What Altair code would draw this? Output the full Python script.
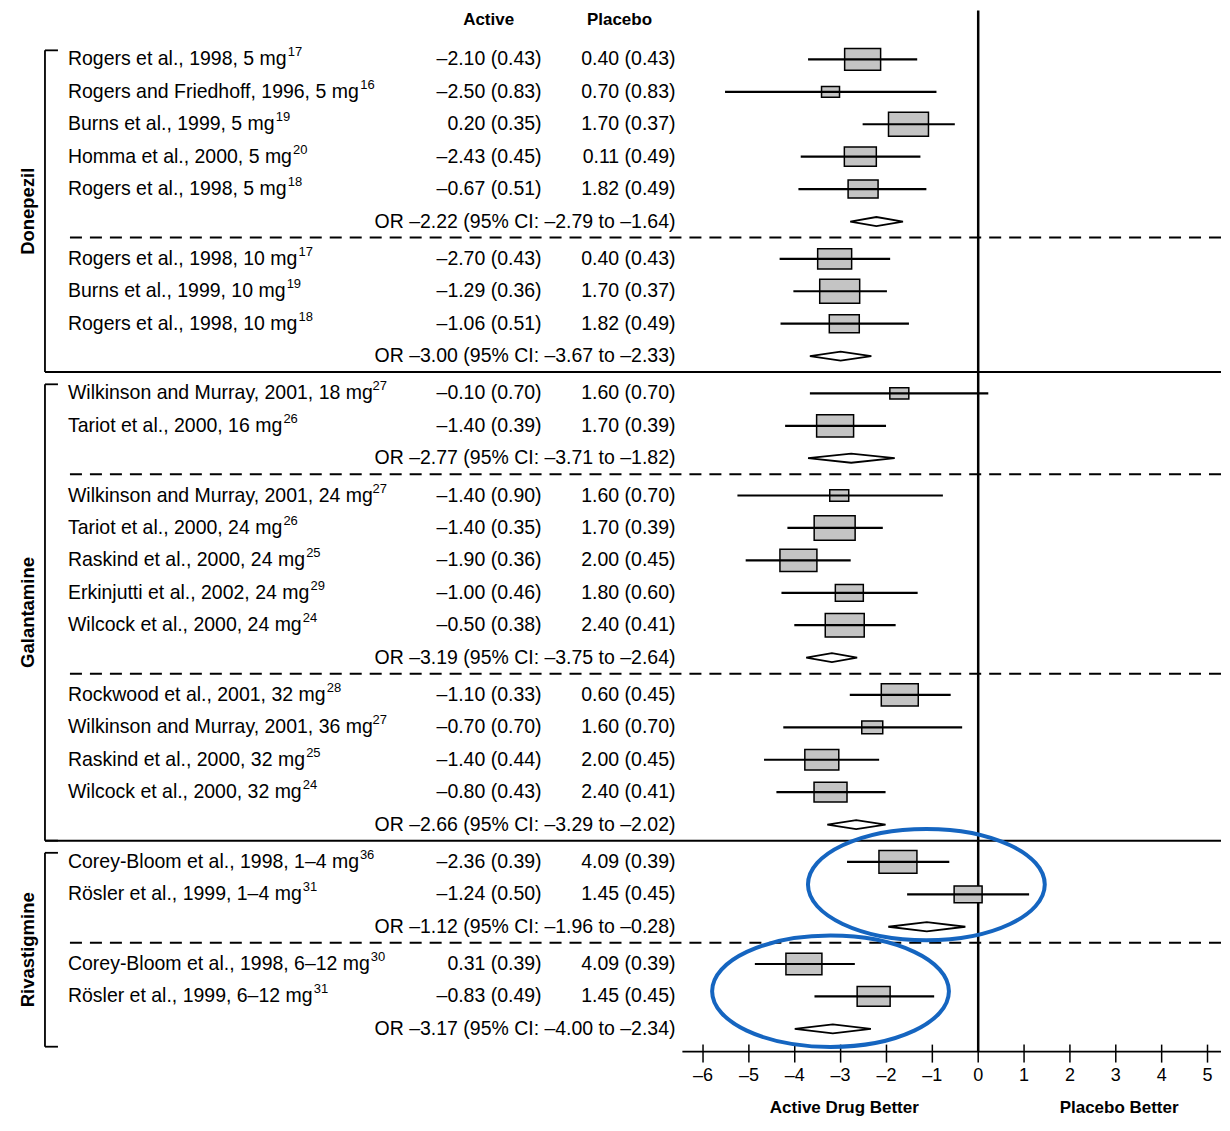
import altair as alt
import pandas as pd

# ---------------- data ----------------
subgroup_drug = ["Donepezil", "Donepezil", "Galantamine", "Galantamine",
                 "Galantamine", "Rivastigmine", "Rivastigmine"]
subgroup_size = [5, 3, 2, 5, 4, 2, 2]

study_names = [
    "Rogers et al., 1998, 5 mg",
    "Rogers and Friedhoff, 1996, 5 mg",
    "Burns et al., 1999, 5 mg",
    "Homma et al., 2000, 5 mg",
    "Rogers et al., 1998, 5 mg",
    "Rogers et al., 1998, 10 mg",
    "Burns et al., 1999, 10 mg",
    "Rogers et al., 1998, 10 mg",
    "Wilkinson and Murray, 2001, 18 mg",
    "Tariot et al., 2000, 16 mg",
    "Wilkinson and Murray, 2001, 24 mg",
    "Tariot et al., 2000, 24 mg",
    "Raskind et al., 2000, 24 mg",
    "Erkinjutti et al., 2002, 24 mg",
    "Wilcock et al., 2000, 24 mg",
    "Rockwood et al., 2001, 32 mg",
    "Wilkinson and Murray, 2001, 36 mg",
    "Raskind et al., 2000, 32 mg",
    "Wilcock et al., 2000, 32 mg",
    "Corey-Bloom et al., 1998, 1–4 mg",
    "Rösler et al., 1999, 1–4 mg",
    "Corey-Bloom et al., 1998, 6–12 mg",
    "Rösler et al., 1999, 6–12 mg",
]
study_refs = ["17", "16", "19", "20", "18", "17", "19", "18", "27", "26", "27", "26",
              "25", "29", "24", "28", "27", "25", "24", "36", "31", "30", "31"]
active_mean = [-2.10, -2.50, 0.20, -2.43, -0.67, -2.70, -1.29, -1.06, -0.10, -1.40,
               -1.40, -1.40, -1.90, -1.00, -0.50, -1.10, -0.70, -1.40, -0.80,
               -2.36, -1.24, 0.31, -0.83]
active_se = [0.43, 0.83, 0.35, 0.45, 0.51, 0.43, 0.36, 0.51, 0.70, 0.39,
             0.90, 0.35, 0.36, 0.46, 0.38, 0.33, 0.70, 0.44, 0.43,
             0.39, 0.50, 0.39, 0.49]
placebo_mean = [0.40, 0.70, 1.70, 0.11, 1.82, 0.40, 1.70, 1.82, 1.60, 1.70,
                1.60, 1.70, 2.00, 1.80, 2.40, 0.60, 1.60, 2.00, 2.40,
                4.09, 1.45, 4.09, 1.45]
placebo_se = [0.43, 0.83, 0.37, 0.49, 0.49, 0.43, 0.37, 0.49, 0.70, 0.39,
              0.70, 0.39, 0.45, 0.60, 0.41, 0.45, 0.70, 0.45, 0.41,
              0.39, 0.45, 0.39, 0.45]
# plotted effect and 95% CI
effect = [-2.52, -3.22, -1.52, -2.57, -2.51, -3.13, -3.02, -2.92, -1.72, -3.12,
          -3.03, -3.13, -3.92, -2.81, -2.91, -1.71, -2.31, -3.41, -3.22,
          -1.75, -0.22, -3.80, -2.28]
ci_low = [-3.71, -5.52, -2.52, -3.87, -3.92, -4.33, -4.03, -4.31, -3.67, -4.21,
          -5.25, -4.16, -5.07, -4.29, -4.01, -2.80, -4.25, -4.67, -4.40,
          -2.86, -1.55, -4.87, -3.57]
ci_high = [-1.33, -0.91, -0.51, -1.26, -1.13, -1.92, -1.99, -1.51, 0.22, -2.01,
           -0.77, -2.08, -2.78, -1.32, -1.80, -0.60, -0.35, -2.16, -2.02,
           -0.63, 1.11, -2.69, -0.96]
# relative study weight (box width)
weight = [36, 18, 40, 32, 30, 34, 40, 30, 19, 37, 19, 41, 37, 28, 39,
          37, 21, 34, 33, 38, 28, 36, 33]

pooled_or = [-2.22, -3.00, -2.77, -3.19, -2.66, -1.12, -3.17]
pooled_low = [-2.79, -3.67, -3.71, -3.75, -3.29, -1.96, -4.00]
pooled_high = [-1.64, -2.33, -1.82, -2.64, -2.02, -0.28, -2.34]

axis_ticks = [-6, -5, -4, -3, -2, -1, 0, 1, 2, 3, 4, 5]
highlight_subgroup = [5, 6]
highlight_x = [-1.13, -3.22]

# ---------------- layout ----------------
W, H = 1214, 1110
X_ZERO, X_UNIT = 971, 45.9
Y_FIRST, Y_UNIT = 51, 32.45
GAP = 0.15
FONT = "Liberation Sans"
BODY = 19.5
SUP = 13
NAME_X = 60

# Liberation Sans (Arial-metric) advance widths, per 1000 em, to place superscripts
ADV = {" ": 278, ",": 278, ".": 278, "-": 333, "–": 556,
       "A": 667, "B": 667, "C": 722, "D": 722, "E": 667, "F": 611, "G": 778,
       "H": 722, "I": 278, "M": 833, "R": 722, "T": 611, "W": 944,
       "a": 556, "b": 556, "c": 500, "d": 556, "e": 556, "f": 278, "g": 556,
       "h": 556, "i": 222, "j": 222, "k": 500, "l": 222, "m": 833, "n": 556,
       "o": 556, "r": 333, "s": 500, "t": 278, "u": 556, "w": 722, "y": 500,
       "ö": 556}
KERN = {("T", "a"): -111, ("y", ","): -111, ("a", "y"): -18, ("r", "a"): -18,
        ("r", ","): -55, ("y", "-"): -18}


def text_width(s, size):
    w = sum(ADV.get(c, 556) for c in s)
    w += sum(KERN.get((a, b), 0) for a, b in zip(s, s[1:]))
    return w * size / 1000.0


def fmt(v):
    return f"{v:.2f}".replace("-", "–")


study_rows, or_rows, seps, sub_first = [], [], [], []
pos, k = 0.0, 0
drug_first, drug_last = {}, {}
for g, (drug, n) in enumerate(zip(subgroup_drug, subgroup_size)):
    sub_first.append(pos)
    drug_first.setdefault(drug, pos)
    for _ in range(n):
        study_rows.append(dict(
            row=pos, name=study_names[k], ref=study_refs[k],
            sx=NAME_X + text_width(study_names[k], BODY) + 1,
            act=f"{fmt(active_mean[k])} ({active_se[k]:.2f})",
            pla=f"{fmt(placebo_mean[k])} ({placebo_se[k]:.2f})",
            effect=effect[k], lo=ci_low[k], hi=ci_high[k], sz=weight[k] ** 2))
        k += 1
        pos += 1
    or_rows.append(dict(
        row=pos, g=g, est=pooled_or[g], lo=pooled_low[g], hi=pooled_high[g],
        label=f"OR {fmt(pooled_or[g])} (95% CI: {fmt(pooled_low[g])} to {fmt(pooled_high[g])})"))
    last = pos
    drug_last[drug] = last
    pos += 1
    if g < len(subgroup_drug) - 1:
        nxt = pos + GAP
        style = "solid" if subgroup_drug[g + 1] != drug else "dashed"
        seps.append(dict(y=last + 0.43 * (nxt - last), style=style, drug=drug))
        pos = nxt

studies = pd.DataFrame(study_rows)
ors = pd.DataFrame(or_rows)
sep_df = pd.DataFrame(seps)

brackets = []
for drug in dict.fromkeys(subgroup_drug):
    top = drug_first[drug] - 0.28
    solid = [s["y"] for s in seps if s["drug"] == drug and s["style"] == "solid"]
    bottom = solid[0] if solid else drug_last[drug] + 0.55
    brackets.append(dict(drug=drug, top=top, bottom=bottom, mid=(top + bottom) / 2))
br = pd.DataFrame(brackets)

diam = []
for r in or_rows:
    diam += [dict(g=r["g"], x=r["lo"], y=r["row"], y2=r["row"]),
             dict(g=r["g"], x=r["est"], y=r["row"] - 0.14, y2=r["row"] + 0.14),
             dict(g=r["g"], x=r["hi"], y=r["row"], y2=r["row"])]
diam = pd.DataFrame(diam)

ell = pd.DataFrame(dict(x=highlight_x,
                        y=[sub_first[s] + (0.7 if i == 0 else 0.84)
                           for i, s in enumerate(highlight_subgroup)]))

ticks = pd.DataFrame(dict(t=axis_ticks, lab=[str(t).replace("-", "–") for t in axis_ticks]))

xs = alt.Scale(domain=[-X_ZERO / X_UNIT, (W - X_ZERO) / X_UNIT], nice=False, zero=False)
ys = alt.Scale(domain=[-Y_FIRST / Y_UNIT, (H - Y_FIRST) / Y_UNIT], nice=False,
               zero=False, reverse=True)


def X(f):
    return alt.X(f, type="quantitative", scale=xs, axis=None)


def Y(f):
    return alt.Y(f, type="quantitative", scale=ys, axis=None)


BOX = "M-1,-0.6L1,-0.6L1,0.6L-1,0.6Z"
ELLIPSE = ("M-1,0C-1,-0.2596,-0.5523,-0.47,0,-0.47C0.5523,-0.47,1,-0.2596,1,0"
           "C1,0.2596,0.5523,0.47,0,0.47C-0.5523,0.47,-1,0.2596,-1,0Z")

layers = []

zero = alt.Chart(pd.DataFrame({"x": [0]})).mark_rule(color="black", strokeWidth=2.5).encode(
    x=X("x"), y=alt.value(2), y2=alt.value(1044))
layers.append(zero)

solid = alt.Chart(sep_df[sep_df["style"] == "solid"]).mark_rule(color="black", strokeWidth=2).encode(
    x=alt.value(37), x2=alt.value(W), y=Y("y"))
dashed = alt.Chart(sep_df[sep_df["style"] == "dashed"]).mark_rule(
    color="black", strokeWidth=2, strokeDash=[12, 8]).encode(
    x=alt.value(62), x2=alt.value(W), y=Y("y"))
layers += [solid, dashed]

bv = alt.Chart(br).mark_rule(color="black", strokeWidth=1.8).encode(
    x=alt.value(37), y=Y("top"), y2=alt.Y2("bottom"))
bt = alt.Chart(br).mark_rule(color="black", strokeWidth=1.8).encode(
    x=alt.value(37), x2=alt.value(50), y=Y("top"))
bb = alt.Chart(br).mark_rule(color="black", strokeWidth=1.8).encode(
    x=alt.value(37), x2=alt.value(50), y=Y("bottom"))
gl = alt.Chart(br).mark_text(angle=270, font=FONT, fontSize=18.5, fontWeight="bold",
                             align="center", baseline="middle", color="black").encode(
    x=alt.value(20), y=Y("mid"), text="drug:N")
layers += [bv, bt, bb, gl]

boxes = alt.Chart(studies).mark_point(shape=BOX, filled=True, fill="#c4c4c4", stroke="black",
                                      strokeWidth=1.5, opacity=1).encode(
    x=X("effect"), y=Y("row"), size=alt.Size("sz:Q", scale=None, legend=None))
whisk = alt.Chart(studies).mark_rule(color="black", strokeWidth=2.2).encode(
    x=X("lo"), x2=alt.X2("hi"), y=Y("row"))
dia = alt.Chart(diam).mark_area(fill="white", stroke="black", strokeWidth=1.8, opacity=1).encode(
    x=X("x"), y=Y("y"), y2=alt.Y2("y2"), detail="g:N")
layers += [boxes, whisk, dia]

txt = dict(font=FONT, fontSize=BODY, baseline="middle", color="black")
names = alt.Chart(studies).mark_text(align="left", **txt).encode(
    x=alt.value(NAME_X), y=Y("row"), text="name:N")
refs = alt.Chart(studies).mark_text(align="left", font=FONT, fontSize=SUP, baseline="middle",
                                    dy=-7, color="black").encode(
    x=alt.X("sx:Q", scale=None, axis=None), y=Y("row"), text="ref:N")
act = alt.Chart(studies).mark_text(align="right", **txt).encode(
    x=alt.value(534), y=Y("row"), text="act:N")
pla = alt.Chart(studies).mark_text(align="right", **txt).encode(
    x=alt.value(668), y=Y("row"), text="pla:N")
ortx = alt.Chart(ors).mark_text(align="right", **txt).encode(
    x=alt.value(668), y=Y("row"), text="label:N")
layers += [names, refs, act, pla, ortx]

for label, px in [("Active", 481), ("Placebo", 612)]:
    layers.append(alt.Chart(pd.DataFrame({"t": [label]})).mark_text(
        font=FONT, fontSize=17, fontWeight="bold", align="center", baseline="middle",
        color="black").encode(x=alt.value(px), y=alt.value(12), text="t:N"))

axis_line = alt.Chart(pd.DataFrame({"a": [-6.45], "b": [(W - X_ZERO) / X_UNIT]})).mark_rule(
    color="black", strokeWidth=1.8).encode(x=X("a"), x2=alt.X2("b"), y=alt.value(1044))
tk = alt.Chart(ticks).mark_rule(color="black", strokeWidth=1.5).encode(
    x=X("t"), y=alt.value(1037), y2=alt.value(1055))
tl = alt.Chart(ticks).mark_text(font=FONT, fontSize=18, align="center", baseline="middle",
                                color="black").encode(x=X("t"), y=alt.value(1068), text="lab:N")
layers += [axis_line, tk, tl]

for label, px in [("Active Drug Better", 837), ("Placebo Better", 1112)]:
    layers.append(alt.Chart(pd.DataFrame({"t": [label]})).mark_text(
        font=FONT, fontSize=17, fontWeight="bold", align="center", baseline="bottom",
        color="black").encode(x=alt.value(px), y=alt.value(1109), text="t:N"))

ellipses = alt.Chart(ell).mark_point(shape=ELLIPSE, filled=False, stroke="#1565c0",
                                     strokeWidth=4, opacity=1, size=56169).encode(
    x=X("x"), y=Y("y"))
layers.append(ellipses)

chart = alt.layer(*layers).properties(width=W, height=H, padding=0,
                                      background="white").configure_view(strokeWidth=0)

chart.save("out.html", embed_options={"renderer": "svg", "actions": False})
